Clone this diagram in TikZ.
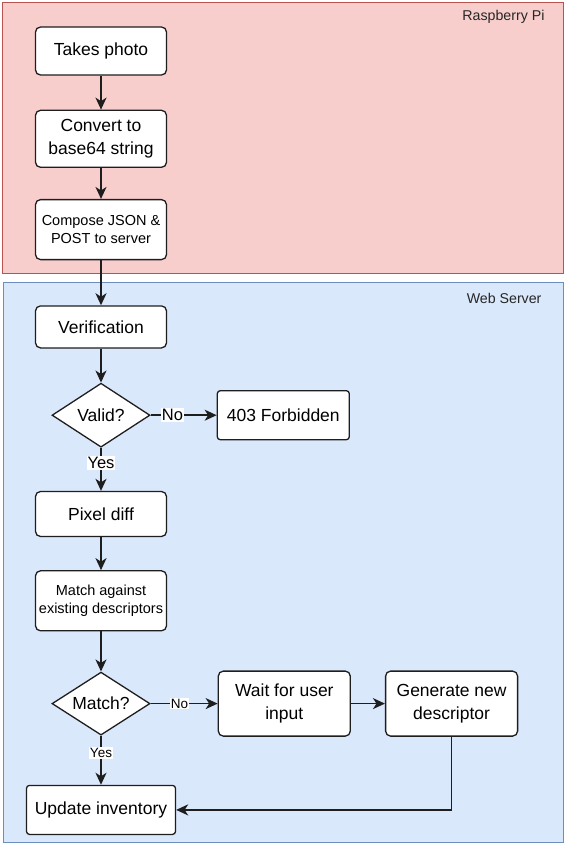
\documentclass[tikz,border=0pt]{standalone}
\usepackage{fontspec}
\setmainfont{Liberation Sans}
\usetikzlibrary{shapes.geometric,arrows.meta,positioning,backgrounds}

\definecolor{piFill}{HTML}{F8CECC}
\definecolor{piLine}{HTML}{B85450}
\definecolor{webFill}{HTML}{DAE8FC}
\definecolor{webLine}{HTML}{6C8EBF}
\definecolor{boxLine}{HTML}{1E1E1E}

\begin{document}
\begin{tikzpicture}[
    x=1pt, y=1pt,
    node distance=34pt and 66pt,
    process/.style={rectangle, draw=boxLine, line width=1.3pt, fill=white, align=center, minimum width=131pt, minimum height=48pt, rounded corners=5pt, inner sep=2pt, font=\fontsize{17.5}{22.5}\selectfont},
    smalltext/.style={font=\fontsize{14.5}{18}\selectfont},
    decision/.style={diamond, aspect=1.53, draw=boxLine, line width=1.3pt, fill=white, inner sep=0pt, minimum width=98pt, minimum height=64pt, font=\fontsize{17.5}{22.5}\selectfont},
    region/.style={rectangle, line width=1pt},
    regionlabel/.style={anchor=east, text=black!85, font=\fontsize{14.2}{16}\selectfont},
    arrow/.style={-{Stealth[length=12pt,width=11pt,inset=3.5pt]}, line width=1.7pt, draw=boxLine},
    answer/.style={fill=white, inner sep=1pt, font=\fontsize{16.5}{18}\selectfont},
    smallanswer/.style={answer, font=\fontsize{13.5}{15}\selectfont}
]
    \useasboundingbox (0,0) rectangle (564,-846);

    % Raspberry Pi side
    \node[process] (photo) at (101,-51) {Takes photo};
    \node[process, minimum height=57pt, below=34pt of photo] (convert) {Convert to\\base64 string};
    \node[process, smalltext, minimum height=60pt, below=31pt of convert] (compose) {Compose JSON \&\\POST to server};

    % Web server side
    \node[process, minimum height=42pt, below=45pt of compose] (verify) {Verification};
    \node[decision, below=34pt of verify] (valid) {Valid?};
    \node[process, rounded corners=3pt, minimum width=132pt, minimum height=49pt, right=66pt of valid] (forbidden) {403 Forbidden};
    \node[process, minimum height=45pt, below=43pt of valid] (pixdiff) {Pixel diff};
    \node[process, smalltext, minimum height=60pt, below=33pt of pixdiff] (against) {Match against\\existing descriptors};
    \node[decision, minimum height=63pt, below=40pt of against] (match) {Match?};
    \node[process, minimum width=132pt, minimum height=65pt, right=67pt of match] (wait) {Wait for user\\input};
    \node[process, minimum width=132pt, minimum height=65pt, right=34pt of wait] (generate) {Generate new\\descriptor};
    \node[process, rounded corners=3pt, minimum width=149pt, minimum height=49pt, below=49pt of match] (update) {Update inventory};

    \node[regionlabel] (pilabel) at (548,-17) {Raspberry Pi};
    \node[regionlabel] (weblabel) at (545,-298) {Web Server};

    \draw[arrow] (photo) -- (convert);
    \draw[arrow] (convert) -- (compose);
    \draw[arrow] (compose) -- (verify);
    \draw[arrow] (verify) -- (valid);
    \draw[arrow] (valid) -- node[answer, pos=0.33] {No} (forbidden);
    \draw[arrow] (valid) -- node[answer, pos=0.35] {Yes} (pixdiff);
    \draw[arrow] (pixdiff) -- (against);
    \draw[arrow] (against) -- (match);
    \draw[arrow] (match) -- node[smallanswer, pos=0.43] {No} (wait);
    \draw[arrow] (match) -- node[smallanswer, pos=0.35] {Yes} (update);
    \draw[arrow] (wait) -- (generate);
    \draw[arrow] (generate.south) |- (update.east);

    \begin{scope}[on background layer]
        \draw[region, draw=piLine, fill=piFill] (2,-2) rectangle (563,-273);
        \draw[region, draw=webLine, fill=webFill] (3,-282) rectangle (563,-842);
    \end{scope}
\end{tikzpicture}
\end{document}
